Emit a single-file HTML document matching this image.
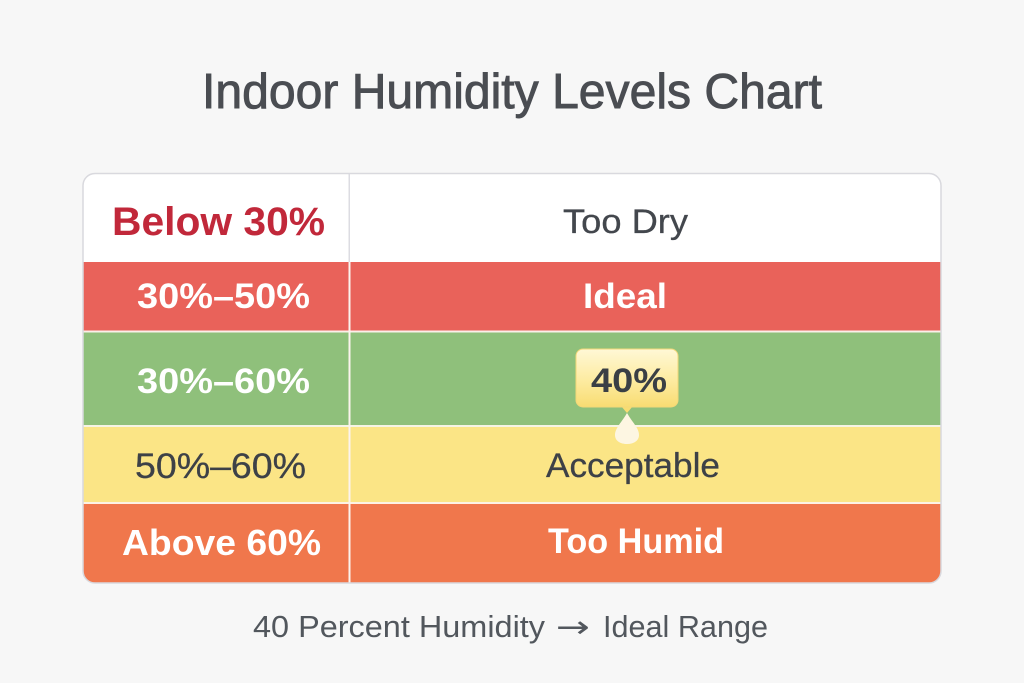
<!DOCTYPE html>
<html><head><meta charset="utf-8">
<style>
html,body{margin:0;padding:0;background:#f7f7f7;}
svg{display:block;}
text{font-family:"Liberation Sans",sans-serif;}
text.arw{font-family:"DejaVu Sans",sans-serif;}
</style></head>
<body>
<svg width="1024" height="683" viewBox="0 0 1024 683" xmlns="http://www.w3.org/2000/svg">
<defs>
<clipPath id="card"><rect x="83" y="173.5" width="858" height="409.5" rx="12" ry="12"/></clipPath>
<linearGradient id="badge" x1="0" y1="0" x2="0" y2="1">
<stop offset="0" stop-color="#fff8d6"/>
<stop offset="0.55" stop-color="#fdeba0"/>
<stop offset="1" stop-color="#f8dc72"/>
</linearGradient>
</defs>
<rect width="1024" height="683" fill="#f7f7f7"/>
<text x="202" y="108" font-size="49" fill="#4a4d52" stroke="#4a4d52" stroke-width="0.9" textLength="620" lengthAdjust="spacingAndGlyphs">Indoor Humidity Levels Chart</text>

<g clip-path="url(#card)">
<rect x="83" y="173" width="858" height="89" fill="#ffffff"/>
<rect x="83" y="262" width="858" height="68.5" fill="#e9625a"/>
<rect x="83" y="332.5" width="858" height="92.5" fill="#8fc07b"/>
<rect x="83" y="427" width="858" height="75" fill="#fbe586"/>
<rect x="83" y="504" width="858" height="80" fill="#f0774c"/>
<rect x="83" y="330.5" width="858" height="2" fill="#fbefe8"/>
<rect x="83" y="425" width="858" height="2" fill="#f6f4e4"/>
<rect x="83" y="502" width="858" height="2" fill="#fdf2e4"/>
<rect x="348.5" y="173" width="1.5" height="89" fill="#dcdce2"/>
<rect x="348.5" y="262" width="2" height="322" fill="#fbf3ee"/>
</g>
<rect x="83" y="173.5" width="858" height="409.5" rx="12" ry="12" fill="none" stroke="#d9d9de" stroke-width="1.5"/>

<text x="112" y="235" font-size="40" font-weight="bold" fill="#c1283a" textLength="213" lengthAdjust="spacingAndGlyphs">Below 30%</text>
<text x="563" y="233" font-size="34" fill="#43474d" stroke="#43474d" stroke-width="0.3" textLength="125" lengthAdjust="spacingAndGlyphs">Too Dry</text>

<text x="137" y="308" font-size="35" font-weight="bold" fill="#ffffff" textLength="173" lengthAdjust="spacingAndGlyphs">30%–50%</text>
<text x="583" y="308" font-size="35" font-weight="bold" fill="#ffffff" textLength="84" lengthAdjust="spacingAndGlyphs">Ideal</text>

<text x="137" y="393" font-size="35" font-weight="bold" fill="#ffffff" textLength="173" lengthAdjust="spacingAndGlyphs">30%–60%</text>

<text x="135" y="478" font-size="35" fill="#3d4147" stroke="#3d4147" stroke-width="0.3" textLength="171" lengthAdjust="spacingAndGlyphs">50%–60%</text>
<text x="546" y="477" font-size="34" fill="#3d4147" stroke="#3d4147" stroke-width="0.3" textLength="174" lengthAdjust="spacingAndGlyphs">Acceptable</text>

<text x="122" y="555" font-size="36" font-weight="bold" fill="#ffffff" textLength="199" lengthAdjust="spacingAndGlyphs">Above 60%</text>
<text x="548" y="553" font-size="35" font-weight="bold" fill="#ffffff" textLength="176" lengthAdjust="spacingAndGlyphs">Too Humid</text>

<!-- badge -->
<path d="M621 406 L627 413 L633 406 Z" fill="#f8dc72"/>
<rect x="576" y="349" width="102" height="58" rx="7" ry="7" fill="url(#badge)" stroke="#f3d778" stroke-width="1"/>
<text x="591" y="392" font-size="34" font-weight="bold" fill="#3a3f45" textLength="76" lengthAdjust="spacingAndGlyphs">40%</text>
<path d="M627 413 C632 422 639 428 639 435 C639 441 633.5 444 627 444 C620.5 444 615 441 615 435 C615 428 622 422 627 413 Z" fill="#fdf6e2"/>

<text x="253" y="637" font-size="31" fill="#52575d" textLength="292" lengthAdjust="spacingAndGlyphs">40 Percent Humidity</text>
<text class="arw" x="556" y="637" font-size="30" fill="#52575d" textLength="34" lengthAdjust="spacingAndGlyphs">→</text>
<text x="603" y="637" font-size="31" fill="#52575d" textLength="165" lengthAdjust="spacingAndGlyphs">Ideal Range</text>
</svg>
</body></html>
